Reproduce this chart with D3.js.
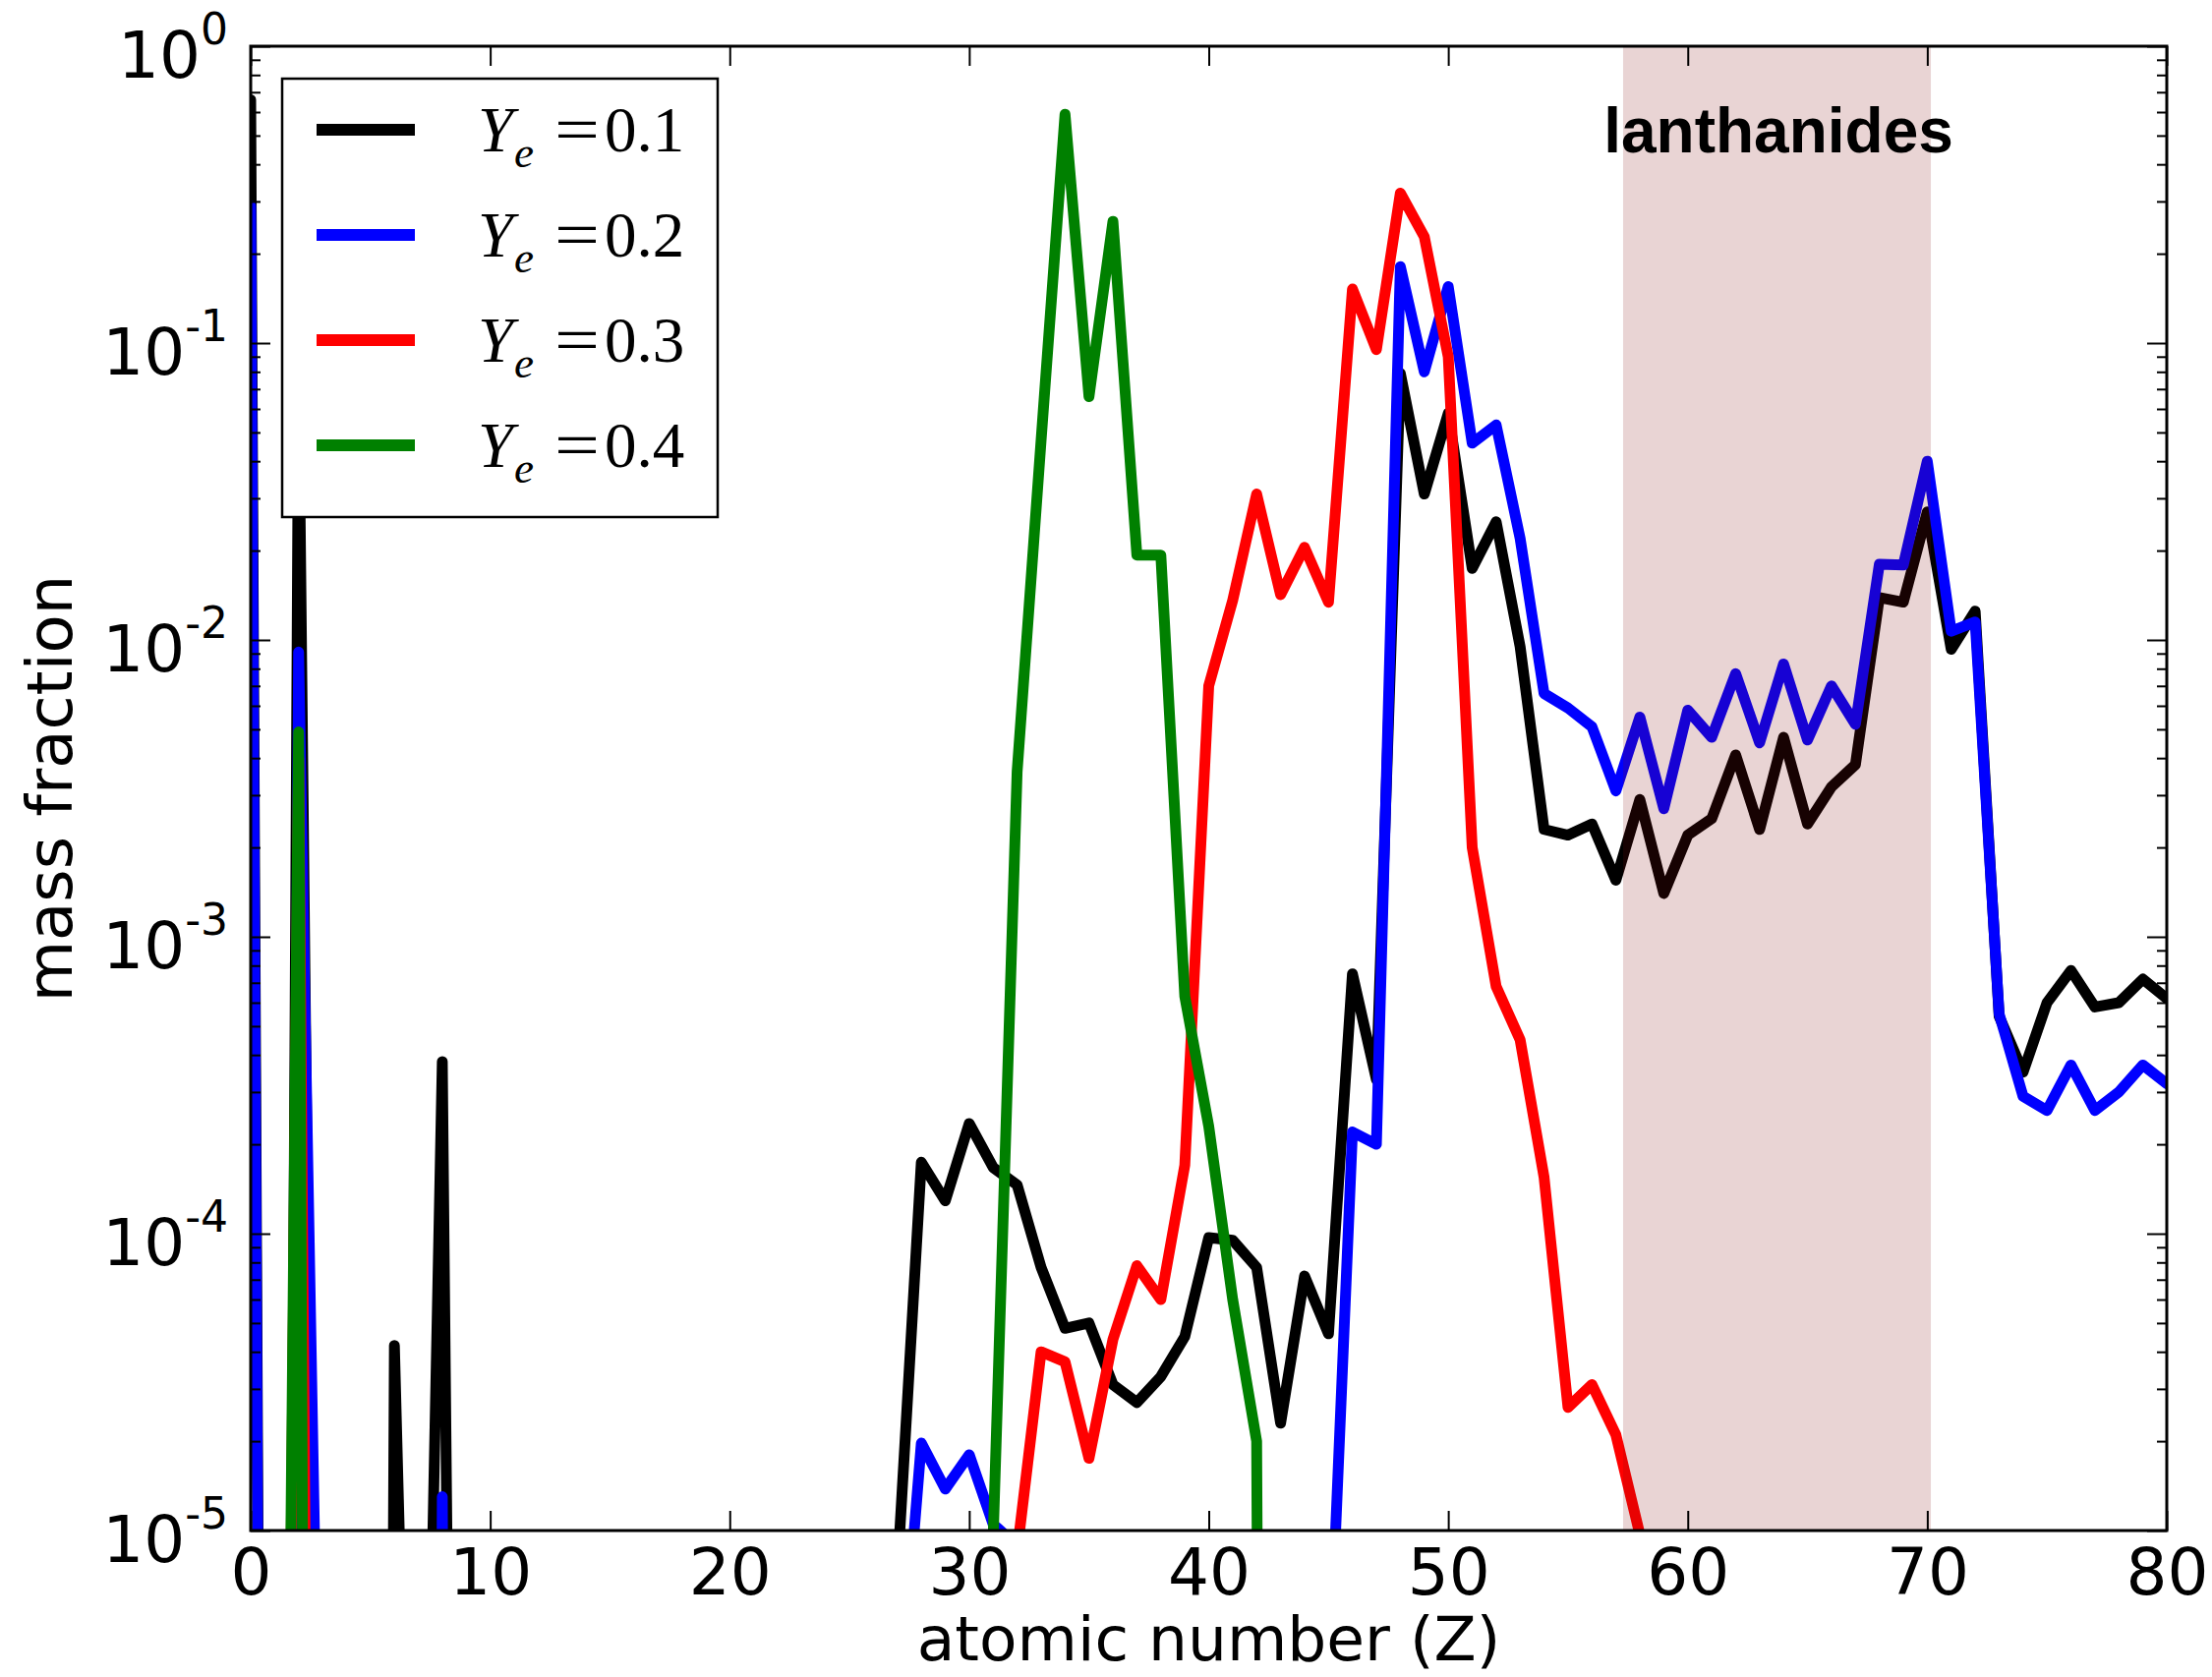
<!DOCTYPE html>
<html><head><meta charset="utf-8">
<script src="https://cdn.jsdelivr.net/npm/d3@7"></script>
<style>html,body{margin:0;padding:0;background:#fff;} svg{display:block}</style>
</head><body>
<svg id="chart" width="2250" height="1706"></svg>
<script>
// ---------------- DATA ----------------
const atomicNumber = [0,1,2,3,4,5,6,7,8,9,10,11,12,13,14,15,16,17,18,19,20,21,22,23,24,25,26,27,28,29,30,31,32,33,34,35,36,37,38,39,40,41,42,43,44,45,46,47,48,49,50,51,52,53,54,55,56,57,58,59,60,61,62,63,64,65,66,67,68,69,70,71,72,73,74,75,76,77,78,79,80];

// Ye = 0.1 (black)
const massYe01 = [0.66,1e-16,0.08,2e-9,1e-20,1e-20,4.2e-5,3.4e-8,3.8e-4,2e-12,
  1e-20,1e-20,1e-20,1e-20,1e-20,1e-20,1e-20,1e-20,1e-20,1e-20,1e-20,1e-20,1e-20,1e-20,1e-20,1e-20,1e-20,
  7.2e-6,1.74e-4,1.29e-4,2.35e-4,1.67e-4,1.46e-4,7.7e-5,4.8e-5,5.0e-5,3.1e-5,2.7e-5,3.3e-5,4.5e-5,
  9.7e-5,9.5e-5,7.7e-5,2.3e-5,7.2e-5,4.6e-5,7.5e-4,3.3e-4,0.079,0.031,
  0.058,0.0174,0.025,0.0095,2.3e-3,2.2e-3,2.4e-3,1.55e-3,2.9e-3,1.4e-3,
  2.2e-3,2.5e-3,4.1e-3,2.3e-3,4.7e-3,2.4e-3,3.2e-3,3.8e-3,0.0139,0.0134,
  0.027,9.3e-3,0.0125,5.4e-4,3.5e-4,6.0e-4,7.7e-4,5.8e-4,6.0e-4,7.2e-4,6.2e-4];

// Ye = 0.2 (blue)
const massYe02 = [0.29,1e-16,0.0091,3e-7,1e-20,1e-20,1e-20,1e-20,1.3e-5,1e-20,
  1e-20,1e-20,1e-20,1e-20,1e-20,1e-20,1e-20,1e-20,1e-20,1e-20,1e-20,1e-20,1e-20,1e-20,1e-20,1e-20,1e-20,
  2e-6,1.97e-5,1.38e-5,1.8e-5,1.05e-5,8.9e-6,
  1e-20,1e-20,1e-20,1e-20,1e-20,1e-20,1e-20,1e-20,1e-20,1e-20,1e-20,1e-20,
  2.7e-6,2.2e-4,2.0e-4,0.181,0.080,0.155,0.046,0.053,0.022,6.6e-3,5.9e-3,
  5.1e-3,3.1e-3,5.5e-3,2.7e-3,5.8e-3,4.7e-3,7.7e-3,4.5e-3,8.3e-3,4.6e-3,
  7.0e-3,5.2e-3,0.018,0.0179,0.040,0.0107,0.0115,5.5e-4,2.9e-4,2.6e-4,
  3.7e-4,2.6e-4,3.0e-4,3.7e-4,3.2e-4];

// Ye = 0.3 (red)
const massYe03 = [1e-20,1e-11,4e-3,1e-12,1e-20,1e-20,1e-20,1e-20,1e-20,1e-20,
  1e-20,1e-20,1e-20,1e-20,1e-20,1e-20,1e-20,1e-20,1e-20,1e-20,1e-20,1e-20,1e-20,1e-20,1e-20,1e-20,1e-20,1e-20,1e-20,1e-20,1e-20,1e-20,
  8.5e-6,4.0e-5,3.7e-5,1.75e-5,4.4e-5,7.8e-5,6.0e-5,1.7e-4,7.0e-3,0.0136,
  0.031,0.0142,0.0205,0.0134,0.152,0.095,0.32,0.228,0.090,2.0e-3,
  6.8e-4,4.5e-4,1.55e-4,2.6e-5,3.1e-5,2.1e-5,9.7e-6,
  1e-20,1e-20,1e-20,1e-20,1e-20,1e-20,1e-20,1e-20,1e-20,1e-20,1e-20,1e-20,1e-20,1e-20,1e-20,1e-20,1e-20,1e-20,1e-20,1e-20,1e-20,1e-20];

// Ye = 0.4 (green)
const massYe04 = [1e-20,2e-11,4.9e-3,1e-19,1e-20,1e-20,1e-20,1e-20,1e-20,1e-20,
  1e-20,1e-20,1e-20,1e-20,1e-20,1e-20,1e-20,1e-20,1e-20,1e-20,1e-20,1e-20,1e-20,1e-20,1e-20,1e-20,1e-20,1e-20,1e-20,1e-20,1e-20,
  9.5e-6,3.6e-3,0.047,0.59,0.066,0.257,0.0193,0.0193,6.3e-4,2.3e-4,6.0e-5,2.0e-5,
  1e-20,1e-20,1e-20,1e-20,1e-20,1e-20,1e-20,1e-20,1e-20,1e-20,1e-20,1e-20,1e-20,1e-20,1e-20,1e-20,1e-20,1e-20,1e-20,
  1e-20,1e-20,1e-20,1e-20,1e-20,1e-20,1e-20,1e-20,1e-20,1e-20,1e-20,1e-20,1e-20,1e-20,1e-20,1e-20,1e-20,1e-20,1e-20];

const seriesLabels = ["0.1","0.2","0.3","0.4"];
const seriesColors = ["#000000","#0000ff","#ff0000","#008000"];
const xTickValues = [0,10,20,30,40,50,60,70,80];
const yTickExponents = [0,-1,-2,-3,-4,-5];
const yMinorTicks = [2e-5,3e-5,4e-5,5e-5,6e-5,7e-5,8e-5,9e-5,2e-4,3e-4,4e-4,5e-4,6e-4,7e-4,8e-4,9e-4,
  2e-3,3e-3,4e-3,5e-3,6e-3,7e-3,8e-3,9e-3,2e-2,3e-2,4e-2,5e-2,6e-2,7e-2,8e-2,9e-2,0.2,0.3,0.4,0.5,0.6,0.7,0.8,0.9];
const bandRange = [57.3, 70.15];
const bandLabel = "lanthanides";
const xLabel = "atomic number (Z)";
const yLabel = "mass fraction";

// ---------------- DRAW ----------------
const W = 2250, H = 1706;
const m = {left:255, right:2204, top:47, bottom:1557};
const svg = d3.select("#chart");
svg.append("rect").attr("width",W).attr("height",H).attr("fill","#fff");

const x = d3.scaleLinear().domain([0,80]).range([m.left,m.right]);
const y = d3.scaleLog().domain([1e-5,1]).range([m.bottom,m.top]);

svg.append("defs").append("clipPath").attr("id","clip").append("rect")
  .attr("x",m.left).attr("y",m.top).attr("width",m.right-m.left).attr("height",m.bottom-m.top);

const plot = svg.append("g").attr("clip-path","url(#clip)");
const allSeries = [massYe01, massYe02, massYe03, massYe04];
const line = d3.line().x((d,i)=>x(atomicNumber[i])).y(d=>y(d));
allSeries.forEach((vals,k)=>{
  plot.append("path").attr("d",line(vals)).attr("fill","none")
    .attr("stroke",seriesColors[k]).attr("stroke-width",11)
    .attr("stroke-linejoin","round").attr("stroke-linecap","round");
});

// lanthanide band (semi-transparent, drawn over lines)
plot.append("rect").attr("x",x(bandRange[0])).attr("width",x(bandRange[1])-x(bandRange[0]))
  .attr("y",m.top).attr("height",m.bottom-m.top)
  .attr("fill","rgb(130,10,10)").attr("fill-opacity",0.175);

// axes ticks
const tickStyle = sel => { sel.select(".domain").remove(); sel.selectAll(".tick line").attr("stroke","#000").attr("stroke-width",2); };
svg.append("g").attr("transform",`translate(0,${m.bottom})`)
  .call(d3.axisBottom(x).tickValues(xTickValues).tickSize(-20).tickPadding(18).tickFormat(d3.format("d")))
  .call(tickStyle)
  .call(s=>s.selectAll(".tick text").attr("font-family","DejaVu Sans").attr("font-size",66).attr("fill","#000"));
svg.append("g").attr("transform",`translate(0,${m.top})`)
  .call(d3.axisTop(x).tickValues(xTickValues).tickSize(-20).tickFormat(""))
  .call(tickStyle);
const yMajor = yTickExponents.map(e=>Math.pow(10,e));
svg.append("g").attr("transform",`translate(${m.left},0)`)
  .call(d3.axisLeft(y).tickValues(yMajor).tickSize(-20).tickFormat(""))
  .call(tickStyle);
svg.append("g").attr("transform",`translate(${m.left},0)`)
  .call(d3.axisLeft(y).tickValues(yMinorTicks).tickSize(-10).tickFormat(""))
  .call(tickStyle);
svg.append("g").attr("transform",`translate(${m.right},0)`)
  .call(d3.axisRight(y).tickValues(yMajor).tickSize(-20).tickFormat(""))
  .call(tickStyle);
svg.append("g").attr("transform",`translate(${m.right},0)`)
  .call(d3.axisRight(y).tickValues(yMinorTicks).tickSize(-10).tickFormat(""))
  .call(tickStyle);

// y tick labels with superscript
const yl = svg.append("g").attr("font-family","DejaVu Sans").attr("fill","#000");
yTickExponents.forEach(e=>{
  const t = yl.append("text").attr("x",m.left-23).attr("y",y(Math.pow(10,e))+32)
    .attr("text-anchor","end").attr("font-size",66);
  t.append("tspan").text("10");
  t.append("tspan").attr("dy",-34).attr("font-size",44).text(e===0?"0":"-"+Math.abs(e));
});

// frame
svg.append("rect").attr("x",m.left).attr("y",m.top).attr("width",m.right-m.left).attr("height",m.bottom-m.top)
  .attr("fill","none").attr("stroke","#000").attr("stroke-width",3);

// axis labels
svg.append("text").attr("x",(m.left+m.right)/2).attr("y",1689).attr("text-anchor","middle")
  .attr("font-family","DejaVu Sans").attr("font-size",63).text(xLabel);
svg.append("text").attr("transform",`translate(73,${(m.top+m.bottom)/2}) rotate(-90)`).attr("text-anchor","middle")
  .attr("font-family","DejaVu Sans").attr("font-size",64).text(yLabel);

// band label
svg.append("text").attr("x",1809).attr("y",155).attr("text-anchor","middle")
  .attr("font-family","Liberation Sans, Arial, sans-serif").attr("font-weight","bold").attr("font-size",64).text(bandLabel);

// legend
const lg = svg.append("g");
lg.append("rect").attr("x",287).attr("y",80).attr("width",443).attr("height",446)
  .attr("fill","#fff").attr("stroke","#000").attr("stroke-width",2.5);
seriesLabels.forEach((lab,i)=>{
  const yb = 154 + 107*i;
  lg.append("line").attr("x1",322).attr("x2",422).attr("y1",yb-22).attr("y2",yb-22)
    .attr("stroke",seriesColors[i]).attr("stroke-width",12);
  const f = "Liberation Serif, Times New Roman, serif";
  lg.append("text").attr("x",486).attr("y",yb).attr("font-family",f).attr("font-style","italic").attr("font-size",65).text("Y");
  lg.append("text").attr("x",523).attr("y",yb+16).attr("font-family",f).attr("font-style","italic").attr("font-size",45).text("e");
  lg.append("text").attr("x",564).attr("y",yb).attr("font-family",f).attr("font-size",65)
    .attr("textLength",46).attr("lengthAdjust","spacingAndGlyphs").text("=");
  lg.append("text").attr("x",615).attr("y",yb).attr("font-family",f).attr("font-size",65).text(lab);
});
</script>
</body></html>
